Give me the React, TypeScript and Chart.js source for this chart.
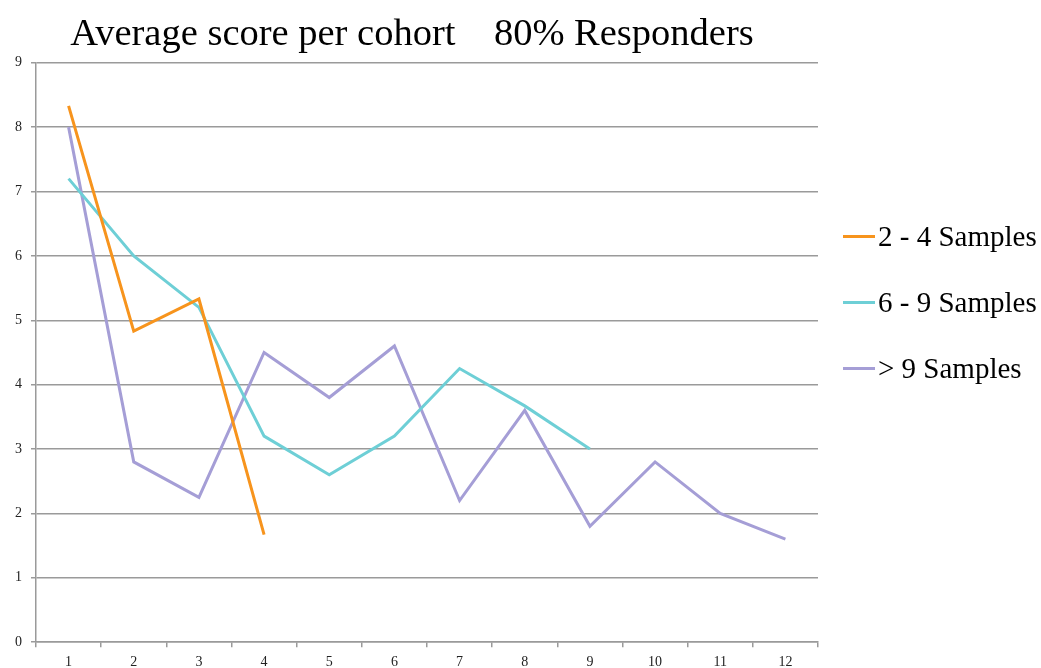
import React, { useEffect, useRef } from "react";
import { Chart, registerables } from "chart.js";

Chart.register(...registerables);

const categories = ["1", "2", "3", "4", "5", "6", "7", "8", "9", "10", "11", "12"];
const samples2to4 = [8.33, 4.83, 5.33, 1.67, null, null, null, null, null, null, null, null];
const samples6to9 = [7.2, 6.0, 5.2, 3.2, 2.6, 3.2, 4.25, 3.67, 3.0, null, null, null];
const samplesOver9 = [8.0, 2.8, 2.25, 4.5, 3.8, 4.6, 2.2, 3.6, 1.8, 2.8, 2.0, 1.6];
const seriesNames = ["2 - 4 Samples", "6 - 9 Samples", "> 9 Samples"];
const seriesColors = ["#F7941D", "#6ECFD6", "#A59ED6"];
const titleText = "Average score per cohort    80% Responders";

const SERIF = "'Liberation Serif', 'Times New Roman', serif";

export default function App() {
  const canvasRef = useRef<HTMLCanvasElement | null>(null);

  useEffect(() => {
    document.body.style.margin = "0";
    const canvas = canvasRef.current;
    if (!canvas) return;
    const seriesData = [samples2to4, samples6to9, samplesOver9];
    const chart = new Chart(canvas, {
      type: "line",
      data: {
        labels: categories,
        datasets: seriesData.map((d, i) => ({
          label: seriesNames[i],
          data: d,
          borderColor: seriesColors[i],
          backgroundColor: seriesColors[i],
          borderWidth: 3,
          pointRadius: 0,
          tension: 0,
          spanGaps: false,
          fill: false,
        })),
      },
      options: {
        responsive: false,
        animation: false,
        layout: { padding: { left: 6, right: 223, top: 0, bottom: -7 } },
        plugins: {
          legend: { display: false },
          tooltip: { enabled: false },
          title: {
            display: true,
            text: titleText,
            color: "#000",
            font: { family: SERIF, size: 38.5, weight: "normal" },
            padding: { top: 12, bottom: 4.5 },
          },
        },
        scales: {
          x: {
            type: "category",
            offset: true,
            grid: {
              offset: true,
              drawOnChartArea: false,
              drawTicks: true,
              tickLength: 5,
              color: "#9a9a9a",
              lineWidth: 1.5,
            },
            border: { color: "#9a9a9a", width: 1.5 },
            ticks: {
              color: "#222",
              font: { family: SERIF, size: 14 },
              padding: 7,
              maxRotation: 0,
            },
          },
          y: {
            min: 0,
            max: 9,
            grid: {
              color: "#9a9a9a",
              lineWidth: 1.5,
              drawTicks: true,
              tickLength: 5,
            },
            border: { color: "#9a9a9a", width: 1.5 },
            ticks: {
              stepSize: 1,
              color: "#222",
              font: { family: SERIF, size: 14 },
              padding: 9,
            },
          },
        },
      },
    });
    return () => chart.destroy();
  }, []);

  return (
    <div style={{ position: "relative", width: 1041, height: 668, background: "#fff", overflow: "hidden" }}>
      <canvas ref={canvasRef} width={1041} height={671} style={{ display: "block" }} />
      <div style={{ position: "absolute", left: 843, top: 218, fontFamily: SERIF, fontSize: 29, color: "#000" }}>
        {seriesNames.map((name, i) => (
          <div key={name} style={{ display: "flex", alignItems: "center", height: 36, marginBottom: i < 2 ? 30 : 0 }}>
            <span style={{ display: "inline-block", width: 32, height: 3, background: seriesColors[i], marginRight: 3 }} />
            <span style={{ whiteSpace: "nowrap" }}>{name}</span>
          </div>
        ))}
      </div>
    </div>
  );
}
